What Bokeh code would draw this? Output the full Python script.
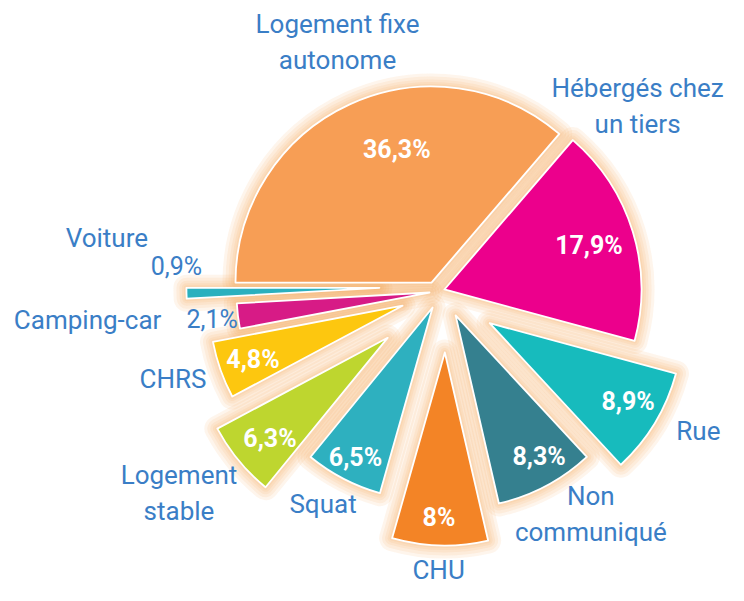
import numpy as np
from bokeh.plotting import figure
from bokeh.models import Range1d, ColumnDataSource
from bokeh.core.properties import value
from bokeh.embed import file_html
from bokeh.resources import INLINE

# ---- data ----
categories = ["Logement fixe\nautonome", "Hébergés chez\nun tiers", "Rue", "Non\ncommuniqué",
              "CHU", "Squat", "Logement\nstable", "CHRS", "Camping-car", "Voiture"]
values = [36.3, 17.9, 8.9, 8.3, 8.0, 6.5, 6.3, 4.8, 2.1, 0.9]
pct_labels = ["36,3%", "17,9%", "8,9%", "8,3%", "8%", "6,5%", "6,3%", "4,8%", "2,1%", "0,9%"]
colors = ["#F79E55", "#EC008C", "#17BBBD", "#35808F", "#F38426",
          "#2EB0BF", "#BED62F", "#FDC70F", "#D71B86", "#2BB0BE"]

# ---- layout (styling, not data) ----
W, H = 728, 585
cx, cy = 440, 308
first_edge = 180.0           # degrees, slices run clockwise from here
explode = [13.3, 5.9, 58.3, 26.9, 58.8, 15.6, 68.2, 38.9, 9.8, 59.9]
nudge = [2.7, 2.4, 0.5, 4.0, 6.8, 0.35, 1.3, -0.8, -2.2, -7.4]
radius = [196, 197, 193, 193, 193, 193, 193, 193, 193, 193]
pct_r = [137, 151, 159, 164, 165, 169, 155, 159, 219, 204]
pct_da = [-10, -0.3, 1.7, 2.7, -0.6, 0.4, 1.2, 0.4, 0.1, -7.5]
pct_inside = [True, True, True, True, True, True, True, True, False, False]
lab_r = [258, 266.7, 235, 240, 218, 225, 260, 241, 343, 277]
lab_da = [-3.3, 26.5, 3.8, 6.4, -0.2, -1.6, -2.8, -1.7, -2.4, -11.9]

blue = "#3A7EC6"

vals = np.array(values, dtype=float)
spans = vals / vals.sum() * 2 * np.pi
hi = np.deg2rad(first_edge) - np.concatenate([[0], np.cumsum(spans)[:-1]])
lo = hi - spans
mid = (hi + lo) / 2

ex = np.array(explode)
nu = np.array(nudge)
tx = cx + ex * np.cos(mid) - nu * np.sin(mid)
ty = cy + ex * np.sin(mid) + nu * np.cos(mid)

src = ColumnDataSource(dict(x=tx, y=ty, r=radius, s=lo, e=hi, c=colors))

p = figure(width=W, height=H, output_backend="svg", toolbar_location=None,
           x_range=Range1d(1, 1 + W), y_range=Range1d(601 - H, 601),
           x_axis_type=None, y_axis_type=None, min_border=0)
p.outline_line_color = None
p.background_fill_color = "white"
p.grid.visible = False

# soft peach glow
for lw in [26, 20, 14, 9, 5]:
    p.wedge(x="x", y="y", radius="r", start_angle="s", end_angle="e", source=src,
            fill_alpha=0, line_color="#F5A04E", line_alpha=0.11, line_width=lw,
            line_join="round")

p.wedge(x="x", y="y", radius="r", start_angle="s", end_angle="e", source=src,
        fill_color="c", line_color="white", line_width=1.8, line_join="round")

# percentage labels
pa = mid + np.deg2rad(pct_da)
px = tx + np.array(pct_r) * np.cos(pa)
py = ty + np.array(pct_r) * np.sin(pa)
ins = np.array(pct_inside)
p.text(x=px[ins], y=py[ins], text=[t for t, i in zip(pct_labels, pct_inside) if i],
       text_color="white", text_font=value("Roboto"), text_font_style="bold",
       text_font_size="25px", text_align="center", text_baseline="middle")
p.text(x=px[~ins], y=py[~ins], text=[t for t, i in zip(pct_labels, pct_inside) if not i],
       text_color=blue, text_font=value("Roboto"), text_font_size="25px",
       text_align="center", text_baseline="middle")

# category labels
la = mid + np.deg2rad(lab_da)
lx = tx + np.array(lab_r) * np.cos(la)
ly = ty + np.array(lab_r) * np.sin(la)
p.text(x=lx, y=ly, text=categories, text_color=blue, text_font=value("Roboto"),
       text_font_size="26px", text_align="center", text_baseline="middle",
       text_line_height=1.2)

open("out.html", "w").write(file_html(p, INLINE))
